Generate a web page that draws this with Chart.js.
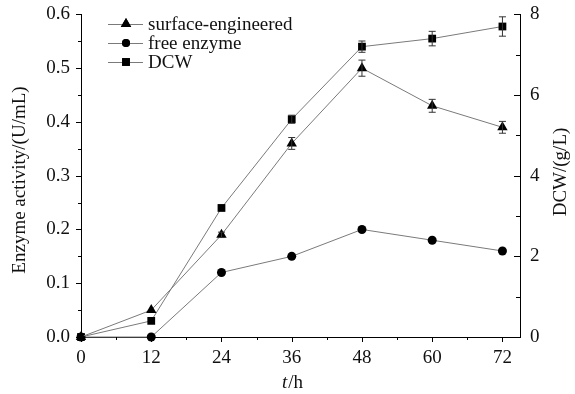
<!DOCTYPE html>
<html>
<head>
<meta charset="utf-8">
<script src="https://cdn.jsdelivr.net/npm/chart.js@4"></script>
<style>
  body { margin: 0; background: #fff; }
  #wrap { width: 575px; height: 394px; }
</style>
</head>
<body>
<div id="wrap"><canvas id="enzChart"></canvas></div>
<script>
// data
const hours = [0, 12, 24, 36, 48, 60, 72];
const surfaceAct = [0, 0.05, 0.19, 0.36, 0.50, 0.43, 0.39];
const surfaceErr = [0, 0, 0.005, 0.011, 0.015, 0.012, 0.011];
const freeAct = [0, 0, 0.12, 0.15, 0.20, 0.18, 0.16];
const dcw = [0, 0.4, 3.2, 5.4, 7.2, 7.4, 7.7];
const dcwErr = [0, 0, 0, 0.1, 0.14, 0.18, 0.24];

const xTicks = [0, 12, 24, 36, 48, 60, 72];
const leftTicks = [0, 0.1, 0.2, 0.3, 0.4, 0.5, 0.6];
const rightTicks = [0, 2, 4, 6, 8];

const FONT = '"Liberation Serif", "Times New Roman", serif';
const lineGrey = '#7a7a7a';

function pts(vals) {
  return hours.map((h, i) => ({x: h, y: vals[i]}));
}

// minor ticks, error bars, legend, axis titles
const extras = {
  id: 'extras',
  afterDatasetsDraw(chart) {
    const c = chart.ctx;
    const xs = chart.scales.x, yl = chart.scales.y, yr = chart.scales.y1;
    const area = chart.chartArea;
    c.save();
    c.strokeStyle = '#000';
    c.lineWidth = 1;
    // x ticks (outward)
    for (let v = 0; v <= 72; v += 6) {
      const px = Math.round(xs.getPixelForValue(v)) + 0.5;
      const len = v % 12 === 0 ? 5 : 3;
      c.beginPath(); c.moveTo(px, area.bottom); c.lineTo(px, area.bottom + len); c.stroke();
    }
    // left ticks (outward)
    for (let k = 0; k <= 12; k++) {
      const py = Math.round(yl.getPixelForValue(k * 0.05)) + 0.5;
      const len = k % 2 === 0 ? 5 : 3;
      c.beginPath(); c.moveTo(area.left, py); c.lineTo(area.left - len, py); c.stroke();
    }
    // right ticks (inward)
    for (let v = 0; v <= 8; v++) {
      const py = Math.round(yr.getPixelForValue(v)) + 0.5;
      const len = v % 2 === 0 ? 6 : 4;
      c.beginPath(); c.moveTo(area.right, py); c.lineTo(area.right - len, py); c.stroke();
    }

    // error bars
    c.strokeStyle = '#333';
    function bars(vals, errs, scale) {
      hours.forEach((h, i) => {
        if (!errs[i]) return;
        const px = xs.getPixelForValue(h);
        const top = scale.getPixelForValue(vals[i] + errs[i]);
        const bot = scale.getPixelForValue(vals[i] - errs[i]);
        c.beginPath();
        c.moveTo(px, top); c.lineTo(px, bot);
        c.moveTo(px - 3.5, top); c.lineTo(px + 3.5, top);
        c.moveTo(px - 3.5, bot); c.lineTo(px + 3.5, bot);
        c.stroke();
      });
    }
    bars(surfaceAct, surfaceErr, yl);
    bars(dcw, dcwErr, yr);

    // legend
    const rows = [
      {label: 'surface-engineered', style: 'triangle', r: 6},
      {label: 'free enzyme', style: 'circle', r: 4},
      {label: 'DCW', style: 'rect', r: 5.5}
    ];
    c.font = '19px ' + FONT;
    c.textBaseline = 'middle';
    rows.forEach((row, i) => {
      const y = 24 + i * 19;
      c.strokeStyle = lineGrey;
      c.beginPath(); c.moveTo(108, y + 0.5); c.lineTo(143, y + 0.5); c.stroke();
      Chart.helpers.drawPoint(c, {pointStyle: row.style, radius: row.r, borderWidth: 0}, 126, y);
      c.fillStyle = '#000';
      c.fill();
      c.fillStyle = '#111';
      c.fillText(row.label, 148, y + 1);
    });

    // axis titles
    c.fillStyle = '#111';
    c.textAlign = 'center';
    c.save();
    c.translate(20, 180);
    c.rotate(-Math.PI / 2);
    c.fillText('Enzyme activity/(U/mL)', 0, 0);
    c.restore();
    c.save();
    c.translate(561, 172);
    c.rotate(-Math.PI / 2);
    c.fillText('DCW/(g/L)', 0, 0);
    c.restore();

    // x title: italic t + /h
    c.textAlign = 'left';
    c.font = 'italic 19px ' + FONT;
    const wT = c.measureText('t').width;
    c.font = '19px ' + FONT;
    const wR = c.measureText('/h').width;
    const x0 = 292 - (wT + wR) / 2;
    c.font = 'italic 19px ' + FONT;
    c.fillText('t', x0, 383);
    c.font = '19px ' + FONT;
    c.fillText('/h', x0 + wT + 1, 383);
    c.restore();
  }
};

const ctx = document.getElementById('enzChart');
const myChart = new Chart(ctx, {
  type: 'line',
  data: {
    datasets: [
      {
        label: 'surface-engineered',
        data: pts(surfaceAct),
        yAxisID: 'y',
        borderColor: lineGrey,
        borderWidth: 1,
        pointStyle: 'triangle',
        pointRadius: 6,
        pointBackgroundColor: '#000',
        pointBorderColor: '#000',
        pointBorderWidth: 0
      },
      {
        label: 'free enzyme',
        data: pts(freeAct),
        yAxisID: 'y',
        borderColor: lineGrey,
        borderWidth: 1,
        pointStyle: 'circle',
        pointRadius: 4.5,
        pointBackgroundColor: '#000',
        pointBorderColor: '#000',
        pointBorderWidth: 0
      },
      {
        label: 'DCW',
        data: pts(dcw),
        yAxisID: 'y1',
        borderColor: lineGrey,
        borderWidth: 1,
        pointStyle: 'rect',
        pointRadius: 5.5,
        pointBackgroundColor: '#000',
        pointBorderColor: '#000',
        pointBorderWidth: 0
      }
    ]
  },
  options: {
    responsive: true,
    maintainAspectRatio: false,
    animation: false,
    clip: false,
    layout: { padding: { top: 8, left: 0, right: 0, bottom: 0 } },
    plugins: {
      legend: { display: false },
      tooltip: { enabled: false }
    },
    scales: {
      x: {
        type: 'linear',
        min: 0,
        max: 75,
        afterBuildTicks: s => { s.ticks = xTicks.map(v => ({value: v})); },
        afterFit: s => { s.height = 57; },
        grid: { display: false },
        border: { display: true, color: '#000', width: 1 },
        ticks: { color: '#111', padding: 2, font: { family: FONT, size: 19 }, maxRotation: 0 }
      },
      y: {
        position: 'left',
        min: 0,
        max: 0.6,
        afterBuildTicks: s => { s.ticks = leftTicks.map(v => ({value: v})); },
        afterFit: s => { s.width = 81; },
        grid: { display: false },
        border: { display: true, color: '#000', width: 1 },
        ticks: {
          color: '#111', padding: 3, font: { family: FONT, size: 19 },
          callback: v => v.toFixed(1)
        }
      },
      y1: {
        position: 'right',
        min: 0,
        max: 8,
        afterBuildTicks: s => { s.ticks = rightTicks.map(v => ({value: v})); },
        afterFit: s => { s.width = 55; },
        grid: { display: false },
        border: { display: true, color: '#000', width: 1 },
        ticks: { color: '#111', padding: 2, font: { family: FONT, size: 19 } }
      }
    }
  },
  plugins: [extras]
});
</script>
</body>
</html>
